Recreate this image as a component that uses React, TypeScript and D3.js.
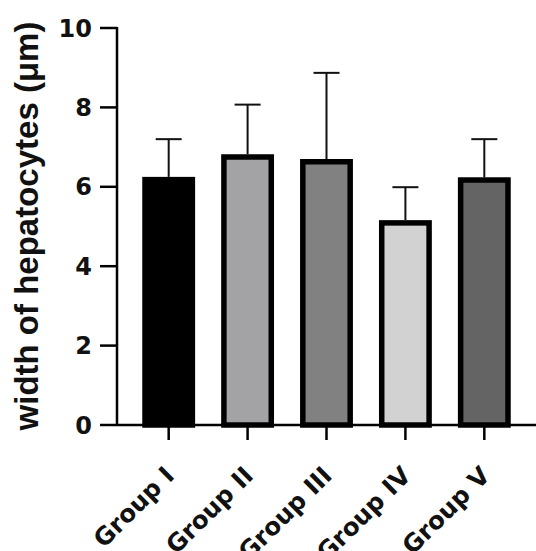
import React from "react";
import * as d3 from "d3";

const groups = ["Group I", "Group II", "Group III", "Group IV", "Group V"];
const means = [6.25, 6.82, 6.7, 5.16, 6.24];
const errors = [0.95, 1.25, 2.17, 0.83, 0.96];
const fills = ["#000000", "#a3a3a6", "#818181", "#d2d2d2", "#646464"];
const yTicks = [0, 2, 4, 6, 8, 10];

const W = 536;
const H = 551;

const App = () => {
  const x = d3
    .scaleBand()
    .domain(groups)
    .range([117, 536])
    .paddingInner(0.33)
    .paddingOuter(0.32);

  const y = d3.scaleLinear().domain([0, 10]).range([425, 28]);

  const bw = x.bandwidth();
  const sw = 5.5; // bar outline

  return (
    <svg
      width={W}
      height={H}
      style={{ position: "absolute", left: 0, top: 0, background: "#fff" }}
    >
      {/* bars + error bars */}
      {groups.map((g, i) => {
        const x0 = x(g);
        const cx = x0 + bw / 2;
        return (
          <g key={g}>
            <line
              x1={cx}
              x2={cx}
              y1={y(means[i])}
              y2={y(means[i] + errors[i])}
              stroke="#111"
              strokeWidth={2}
            />
            <line
              x1={cx - 13}
              x2={cx + 13}
              y1={y(means[i] + errors[i])}
              y2={y(means[i] + errors[i])}
              stroke="#111"
              strokeWidth={2}
            />
            <rect
              x={x0 + sw / 2}
              y={y(means[i]) + sw / 2}
              width={bw - sw}
              height={y(0) - y(means[i]) - sw / 2}
              fill={fills[i]}
              stroke="#000"
              strokeWidth={sw}
            />
          </g>
        );
      })}

      {/* y axis */}
      <line x1={117} x2={117} y1={y(10) - 1} y2={y(0)} stroke="#000" strokeWidth={2.5} />
      {yTicks.map((t) => (
        <g key={t}>
          <line x1={100} x2={117} y1={y(t)} y2={y(t)} stroke="#000" strokeWidth={2.5} />
          <text
            x={92}
            y={y(t)}
            dy="0.36em"
            textAnchor="end"
            fontFamily="DejaVu Sans"
            fontWeight="bold"
            fontSize={24}
            fill="#111"
          >
            {t}
          </text>
        </g>
      ))}

      {/* x axis */}
      <line x1={117} x2={536} y1={y(0)} y2={y(0)} stroke="#000" strokeWidth={2.5} />
      {groups.map((g) => {
        const cx = x(g) + bw / 2;
        return (
          <g key={g}>
            <line x1={cx} x2={cx} y1={y(0)} y2={y(0) + 15} stroke="#000" strokeWidth={2.5} />
            <text
              transform={`translate(${cx + 7},${y(0) + 52}) rotate(-45)`}
              textAnchor="end"
              fontFamily="DejaVu Sans"
              fontWeight="bold"
              fontSize={24.5}
              fill="#111"
            >
              {g}
            </text>
          </g>
        );
      })}

      {/* y label */}
      <text
        transform="translate(38,226) rotate(-90)"
        textAnchor="middle"
        fontFamily="Liberation Sans"
        fontWeight="bold"
        fontSize={33}
        fill="#111"
      >
        width of hepatocytes (μm)
      </text>
    </svg>
  );
};

export default App;
